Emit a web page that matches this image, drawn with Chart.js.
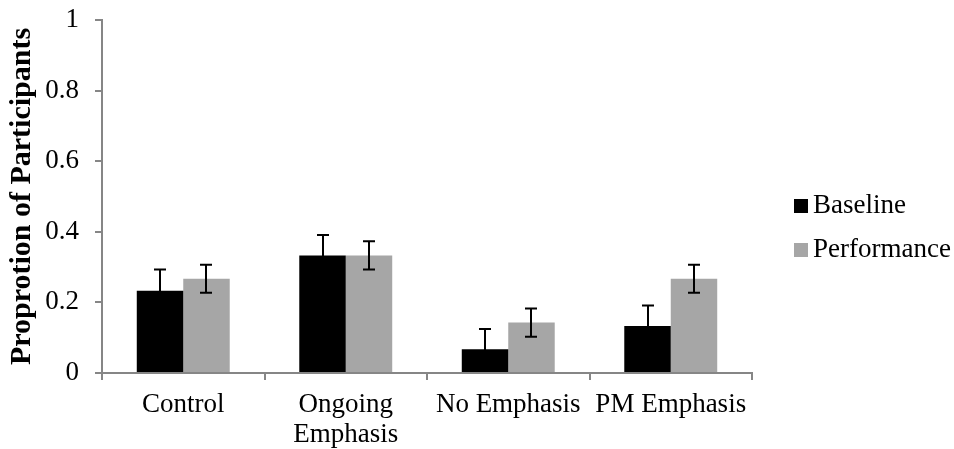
<!DOCTYPE html>
<html><head><meta charset="utf-8">
<script src="https://cdn.jsdelivr.net/npm/chart.js@4/dist/chart.umd.min.js"></script>
<style>html,body{margin:0;padding:0;background:#fff}</style>
</head><body>
<canvas id="c" width="954" height="449"></canvas>
<script>
const categories = [['Control'], ['Ongoing', 'Emphasis'], ['No Emphasis'], ['PM Emphasis']];
const seriesNames = ['Baseline', 'Performance'];
const baseline = [0.233, 0.333, 0.067, 0.133];
const performance = [0.267, 0.333, 0.143, 0.267];
const baselineErr = [0.06, 0.058, 0.058, 0.058];
const performanceErr = [0.04, 0.04, 0.04, 0.04];
const yTicks = [0, 0.2, 0.4, 0.6, 0.8, 1];

const FONT = '"Liberation Serif", "Times New Roman", serif';
const AXIS = '#868686';

const errorBars = {
  id: 'errorBars',
  afterDatasetsDraw(chart) {
    const ctx = chart.ctx, y = chart.scales.y;
    chart.data.datasets.forEach((ds, i) => {
      const meta = chart.getDatasetMeta(i);
      meta.data.forEach((bar, j) => {
        const v = ds.data[j], e = ds.errors[j];
        const x = Math.round(bar.x);
        const top = y.getPixelForValue(v + e), bot = y.getPixelForValue(v - e);
        ctx.save();
        ctx.strokeStyle = '#000';
        ctx.lineWidth = 2;
        ctx.beginPath();
        ctx.moveTo(x, top); ctx.lineTo(x, bot);
        ctx.moveTo(x - 6, top); ctx.lineTo(x + 6, top);
        ctx.moveTo(x - 6, bot); ctx.lineTo(x + 6, bot);
        ctx.stroke();
        ctx.restore();
      });
    });
  }
};

const sideLegend = {
  id: 'sideLegend',
  afterDraw(chart) {
    const ctx = chart.ctx;
    const x0 = 794, ys = [206, 250];
    ctx.save();
    ctx.font = '27px ' + FONT;
    ctx.textBaseline = 'middle';
    ctx.textAlign = 'left';
    chart.data.datasets.forEach((ds, i) => {
      ctx.fillStyle = ds.backgroundColor;
      ctx.fillRect(x0, ys[i] - 7, 14, 14);
      ctx.fillStyle = '#000';
      ctx.fillText(ds.label, x0 + 19, ys[i]);
    });
    ctx.restore();
  }
};

new Chart(document.getElementById('c'), {
  type: 'bar',
  data: {
    labels: categories,
    datasets: [
      { label: seriesNames[0], data: baseline, errors: baselineErr, backgroundColor: '#000000' },
      { label: seriesNames[1], data: performance, errors: performanceErr, backgroundColor: '#a6a6a6' }
    ]
  },
  options: {
    responsive: false,
    animation: false,
    devicePixelRatio: 1,
    layout: { padding: { left: 0, right: 202, top: 20, bottom: 0 } },
    datasets: { bar: { categoryPercentage: 0.572, barPercentage: 1.0 } },
    plugins: { legend: { display: false }, tooltip: { enabled: false } },
    scales: {
      x: {
        grid: { drawOnChartArea: false, drawTicks: true, tickLength: 7, color: AXIS, lineWidth: 2, offset: true },
        border: { display: true, color: AXIS, width: 2 },
        ticks: { color: '#000', font: { family: FONT, size: 27, lineHeight: 1.1 }, padding: 10, maxRotation: 0, autoSkip: false },
        afterFit(s) { s.height = 76; s.paddingLeft = 0; s.paddingRight = 0; }
      },
      y: {
        min: 0, max: 1,
        afterBuildTicks(s) { s.ticks = yTicks.map(v => ({ value: v })); },
        grid: { drawOnChartArea: false, drawTicks: true, tickLength: 7, color: AXIS, lineWidth: 2 },
        border: { display: true, color: AXIS, width: 2 },
        ticks: { color: '#000', font: { family: FONT, size: 27 }, padding: 16, callback: v => String(v) },
        title: { display: true, text: 'Proprotion of Participants', color: '#000', font: { family: FONT, size: 30, weight: 'bold' }, padding: { top: 4, bottom: 0 } },
        afterFit(s) { s.width = 102; s.paddingTop = 0; s.paddingBottom = 0; }
      }
    }
  },
  plugins: [errorBars, sideLegend]
});
</script>
</body></html>
